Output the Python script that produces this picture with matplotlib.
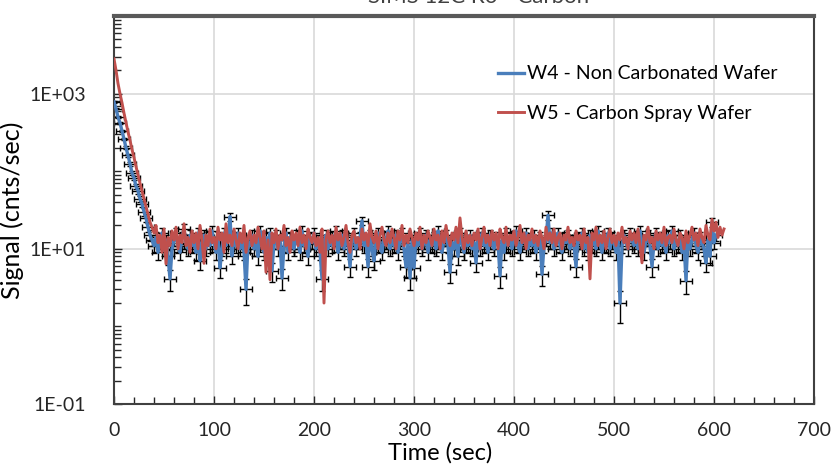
import matplotlib
matplotlib.use("Agg")
import matplotlib.pyplot as plt
import numpy as np
from matplotlib.ticker import FixedLocator, LogLocator, MultipleLocator, NullFormatter

plt.rcParams['font.family'] = ['Lato', 'DejaVu Sans']

# W4 - non carbonated wafer, one value every 2 s from t=0
w4 = [780, 640, 500, 420, 330, 260, 200, 160, 125, 95,
      82, 64, 56, 44, 38, 30, 25, 19, 15, 13,
      11, 14, 9, 12, 16, 10, 13, 8, 4.1, 10,
      13, 16, 11, 9, 14, 18, 12, 10, 15, 11,
      13, 9, 16, 7.0, 12, 15, 10, 14, 11, 17,
      12, 9, 14, 5.7, 10, 16, 11, 13, 26, 8.1,
      14, 11, 16, 10, 13, 9, 3.0, 12, 11, 15,
      10, 13, 8, 17, 12, 9, 14, 11, 16, 5.2,
      12, 15, 10, 13, 4.2, 11, 16, 9, 14, 12,
      10, 15, 12, 9, 17, 11, 13, 8, 14, 12,
      16, 10, 13, 9, 4.1, 12, 15, 10, 14, 11,
      13, 17, 9, 12, 15, 10, 14, 11, 5.9, 13,
      16, 10, 12, 14, 23, 11, 13, 5.9, 15, 10,
      7.0, 13, 16, 11, 9, 14, 12, 17, 10, 13,
      11, 15, 9, 13, 16, 10, 5.8, 12, 4.2, 13,
      5.7, 14, 11, 16, 10, 12, 15, 9, 13, 11,
      14, 10, 17, 12, 9, 13, 15, 11, 5.0, 12,
      10, 14, 8, 16, 12, 9, 13, 11, 15, 10,
      12, 6.6, 14, 10, 16, 11, 13, 9, 15, 12,
      10, 14, 12, 4.5, 13, 9, 16, 11, 14, 10,
      13, 17, 11, 9, 14, 12, 16, 10, 13, 11,
      15, 9, 12, 14, 4.7, 11, 13, 27, 12, 16,
      10, 13, 16, 11, 9, 14, 12, 15, 10, 13,
      11, 5.9, 14, 12, 16, 10, 13, 9, 15, 11,
      14, 10, 17, 12, 9, 13, 11, 16, 10, 14,
      12, 9, 13, 2.0, 11, 15, 12, 10, 16, 13,
      11, 14, 10, 17, 12, 9, 13, 15, 11, 5.9,
      12, 16, 10, 14, 11, 13, 9, 15, 12, 17,
      10, 13, 11, 15, 9, 12, 3.9, 14, 10, 13,
      16, 11, 9, 14, 12, 10, 6.6, 13, 8, 22,
      12, 15]

# W5 - carbon spray wafer
w5 = [2800, 2000, 1350, 1000, 760, 560, 420, 320, 250, 190,
      150, 115, 90, 70, 56, 44, 35, 28, 22, 19,
      16, 20, 12, 15, 9, 18, 6.4, 14, 11, 17,
      13, 19, 10, 15, 12, 21, 11, 14, 9, 17,
      12, 16, 10, 20, 13, 6.5, 15, 11, 18, 12,
      14, 10, 19, 13, 16, 9, 21, 12, 15, 11,
      18, 13, 10, 16, 12, 20, 9, 14, 17, 11,
      15, 12, 19, 14, 10, 17, 5.0, 13, 4.0, 16,
      12, 18, 10, 15, 13, 20, 11, 14, 9, 17,
      13, 16, 11, 19, 12, 15, 10, 18, 14, 12,
      16, 11, 14, 9, 18, 2.0, 13, 17, 12, 15,
      10, 19, 13, 16, 11, 14, 20, 12, 9, 15,
      17, 12, 14, 10, 18, 13, 16, 11, 21, 14,
      12, 17, 10, 15, 19, 13, 11, 16, 12, 18,
      14, 10, 17, 13, 20, 11, 15, 12, 18, 14,
      11, 16, 13, 19, 10, 15, 12, 17, 14, 11,
      18, 13, 15, 10, 17, 12, 20, 14, 11, 16,
      13, 19, 12, 25, 14, 10, 17, 12, 15, 11,
      16, 13, 18, 10, 14, 19, 12, 15, 11, 17,
      13, 16, 10, 18, 14, 12, 19, 11, 15, 13,
      17, 11, 14, 20, 12, 16, 10, 15, 13, 18,
      12, 15, 11, 17, 14, 10, 19, 13, 16, 12,
      18, 11, 14, 16, 10, 15, 13, 19, 12, 14,
      11, 17, 13, 15, 10, 18, 12, 14, 4.1, 16,
      13, 19, 11, 15, 12, 17, 10, 14, 18, 12,
      15, 11, 16, 13, 19, 12, 14, 10, 17, 13,
      16, 12, 18, 11, 6.6, 15, 13, 19, 12, 14,
      10, 17, 13, 16, 12, 19, 11, 14, 15, 12,
      18, 13, 11, 16, 14, 10, 17, 12, 15, 19,
      13, 16, 11, 18, 14, 12, 20, 15, 13, 24,
      17, 22, 14, 19, 15, 18]

step = 2.0      # sec between points
dwell = 2.5     # used for counting error
xerr_w4 = 6.0

t4 = np.arange(len(w4)) * step
t5 = np.arange(len(w5)) * step
w4 = np.array(w4, dtype=float)
w5 = np.array(w5, dtype=float)
yerr_w4 = np.sqrt(w4 / dwell)

fig = plt.figure(figsize=(8.32, 4.65), dpi=100)
ax = fig.add_axes([114/832, 1 - 404/465, 700/832, 388/465])

ax.errorbar(t4, w4, yerr=yerr_w4, xerr=xerr_w4, fmt='none', ecolor='black',
            elinewidth=1.0, capsize=2.2, capthick=1.0, zorder=2)
ax.plot(t4, w4, color='#4A7EBB', lw=2.4, zorder=3, label='W4 - Non Carbonated Wafer')
ax.plot(t5, w5, color='#C0504D', lw=2.1, zorder=4, label='W5 - Carbon Spray Wafer')

ax.set_yscale('log')
ax.set_xlim(0, 700)
ax.set_ylim(0.1, 1e4)
ax.xaxis.set_major_locator(MultipleLocator(100))
ax.xaxis.set_minor_locator(MultipleLocator(20))
ax.yaxis.set_major_locator(FixedLocator([0.1, 10, 1000]))
ax.yaxis.set_minor_locator(LogLocator(base=10, subs=np.arange(1, 10)))
ax.yaxis.set_minor_formatter(NullFormatter())
ax.set_yticklabels(['1E-01', '1E+01', '1E+03'])

ax.grid(True, which='major', color='#D9D9D9', lw=1.2, zorder=0)
ax.set_axisbelow(True)
ax.tick_params(which='both', direction='in', labelsize=14, colors='#262626',
               top=False, right=False)
ax.tick_params(which='major', length=6, width=1.0, pad=13)
ax.tick_params(which='minor', length=5, width=1.0)
ax.tick_params(axis='y', pad=20)
for s in ax.spines.values():
    s.set_color('#404040')
    s.set_linewidth(1.5)
ax.spines['top'].set_color('#595959')
ax.spines['top'].set_linewidth(3)

ax.set_xlabel('Time (sec)', fontsize=17)
ax.xaxis.set_label_coords(0.466, -0.098)
ax.set_ylabel('Signal (cnts/sec)', fontsize=18)
ax.yaxis.set_label_coords(-0.128, 0.5)

ax.legend(loc='center left', bbox_to_anchor=(0.535, 0.80), frameon=False,
          fontsize=14, handlelength=1.3, handletextpad=0.2, labelspacing=1.15,
          borderpad=0)

# title sits mostly above the top edge, as in the source image
fig.text(0.575, 1 - 3/465, 'SIMS 12C R0 - Carbon', ha='center', va='baseline',
         fontsize=16, color='#404040')

fig.savefig('out.png', dpi=100)
